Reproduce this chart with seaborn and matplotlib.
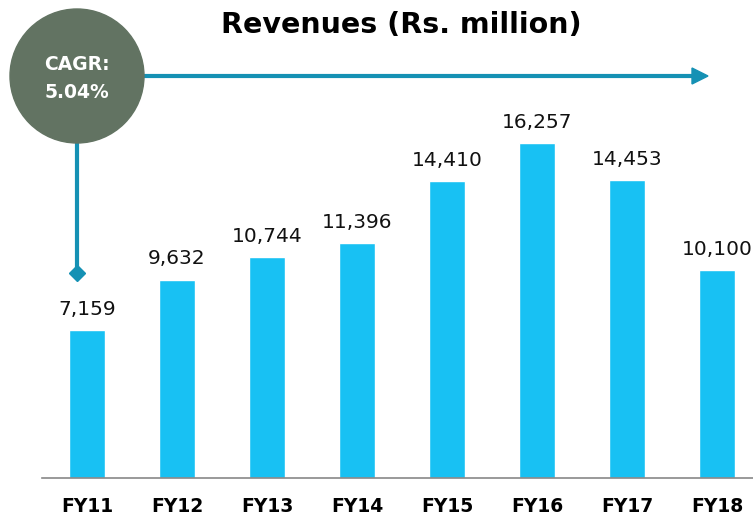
import matplotlib
matplotlib.use("Agg")
import matplotlib.pyplot as plt
import seaborn as sns
import pandas as pd
from matplotlib.patches import Circle, Polygon

# Данные
years = ['FY11', 'FY12', 'FY13', 'FY14', 'FY15', 'FY16', 'FY17', 'FY18']
revenues = [7159, 9632, 10744, 11396, 14410, 16257, 14453, 10100]
title = 'Revenues (Rs. million)'
cagr_text = 'CAGR:\n5.04%'

df = pd.DataFrame({'year': years, 'revenue': revenues})

sns.set_style('white')
plt.rcParams['font.family'] = ['DejaVu Sans']

bar_color = '#18C1F3'
arrow_color = '#1591B4'
circle_color = '#627362'

W, H = 753, 520
fig = plt.figure(figsize=(W / 100, H / 100), dpi=100)
ax = fig.add_axes([42 / W, 42 / H, 711 / W, 478 / H])

sns.barplot(data=df, x='year', y='revenue', color=bar_color, width=0.4,
            saturation=1, ax=ax)
ax.set_xlim(-0.5, 7.4)
ax.set_ylim(0, 23200)
ax.bar_label(ax.containers[0], labels=[f'{v:,}' for v in revenues],
             padding=8, fontsize=14.5, color='#111111')

for s in ['top', 'left', 'right']:
    ax.spines[s].set_visible(False)
ax.spines['bottom'].set_color('#888888')
ax.spines['bottom'].set_linewidth(1.2)
ax.set_yticks([])
ax.set_xlabel('')
ax.set_ylabel('')
ax.tick_params(axis='x', length=0, pad=14, labelsize=13.5, labelcolor='black')
for lbl in ax.get_xticklabels():
    lbl.set_fontweight('bold')

# Оверлей для декоративных элементов (в пикселях)
ov = fig.add_axes([0, 0, 1, 1], facecolor='none')
ov.set_xlim(0, W)
ov.set_ylim(H, 0)
ov.axis('off')

# Стрелка вправо
ov.plot([140, 694], [76, 76], color=arrow_color, lw=3, solid_capstyle='butt')
ov.add_patch(Polygon([[692, 68], [708, 76], [692, 84]], closed=True,
                     color=arrow_color))
# Вертикальная линия с ромбом
ov.plot([77, 77], [140, 272], color=arrow_color, lw=3, solid_capstyle='butt')
ov.plot([77], [273], marker='D', markersize=8, color=arrow_color)

ov.add_patch(Circle((77, 76), 67, color=circle_color, zorder=3))
ov.text(77, 78, cagr_text, ha='center', va='center', color='white',
        fontsize=13.5, fontweight='bold', linespacing=1.6, zorder=4)

fig.text(401 / W, 1 - 25 / H, title, ha='center', va='center',
         fontsize=20.5, fontweight='heavy', color='black')

fig.savefig('out.png', dpi=100)
